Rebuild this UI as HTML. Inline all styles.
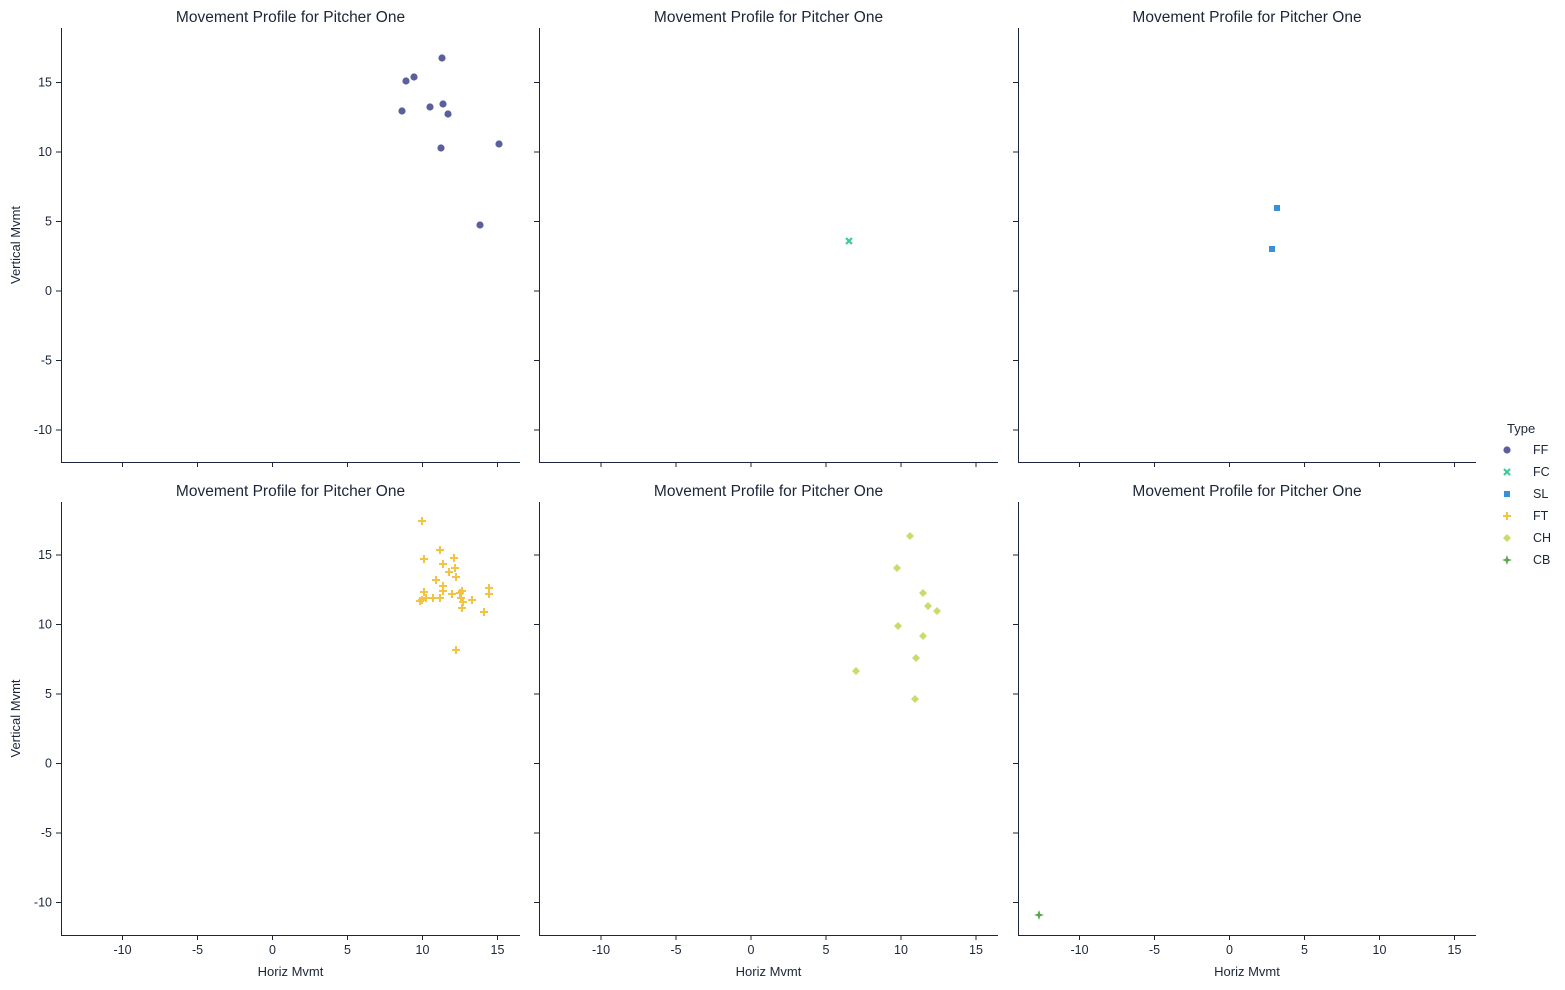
<!DOCTYPE html><html><head><style>body{margin:0;background:#fff}svg{display:block}text{font-family:"Liberation Sans",sans-serif;fill:#1b2638}</style></head><body>
<svg width="1565" height="990" xmlns="http://www.w3.org/2000/svg">
<g id="panels" stroke="#1b2638" stroke-width="1" fill="none"></g>
<g id="txt" font-size="12.5"></g>
<g id="pts"></g>
</svg>
<script>
const NS="http://www.w3.org/2000/svg";
const P=document.getElementById('panels'),T=document.getElementById('txt'),Q=document.getElementById('pts');
function el(p,tag,a,t){const e=document.createElementNS(NS,tag);for(const k in a)e.setAttribute(k,a[k]);if(t!==undefined)e.textContent=t;p.appendChild(e);return e;}
const cols=[[61,520,272.5],[539,998,751],[1018,1476,1229.5]];
const rows=[[28,462,291],[502,935,763.5]];
rows.forEach((r,ri)=>cols.forEach((c,ci)=>{
 el(P,'line',{x1:c[0]+.5,y1:r[0],x2:c[0]+.5,y2:r[1]});
 el(P,'line',{x1:c[0],y1:r[1]+.5,x2:c[1],y2:r[1]+.5});
 el(T,'text',{x:(c[0]+c[1])/2,y:r[0]-6,'text-anchor':'middle','font-size':'15.5'},'Movement Profile for Pitcher One');
 for(let v=-10;v<=15;v+=5){const x=c[2]+v*15;el(P,'line',{x1:x,y1:r[1],x2:x,y2:r[1]+5});
  if(ri==1)el(T,'text',{x:x,y:r[1]+19,'text-anchor':'middle'},String(v));}
 for(let v=-10;v<=15;v+=5){const y=r[2]-v*13.9;el(P,'line',{x1:c[0],y1:y,x2:c[0]-5,y2:y});
  if(ci==0)el(T,'text',{x:c[0]-9,y:y+4,'text-anchor':'end'},String(v));}
 if(ri==1)el(T,'text',{x:(c[0]+c[1])/2,y:976,'text-anchor':'middle','font-size':'13'},'Horiz Mvmt');
 if(ci==0)el(T,'text',{x:20,y:(r[0]+r[1])/2,'text-anchor':'middle','font-size':'13',transform:`rotate(-90 20 ${(r[0]+r[1])/2})`},'Vertical Mvmt');
}));
const C={FF:'#5b5f9c',FC:'#3ec99b',SL:'#3a90d6',FT:'#f5c343',CH:'#c8dc6c',CB:'#5aa84c'};
function mk(t,x,y){const c=C[t];
 if(t=='FF')el(Q,'circle',{cx:x,cy:y,r:3.6,fill:c});
 else if(t=='FC'){el(Q,'path',{d:`M${x-3} ${y-3}L${x+3} ${y+3}M${x+3} ${y-3}L${x-3} ${y+3}`,stroke:c,'stroke-width':2.2});}
 else if(t=='SL')el(Q,'rect',{x:x-3,y:y-3,width:6,height:6,fill:c});
 else if(t=='FT')el(Q,'path',{d:`M${x-4} ${y}H${x+4}M${x} ${y-4}V${y+4}`,stroke:c,'stroke-width':2});
 else if(t=='CH')el(Q,'path',{d:`M${x} ${y-4}L${x+4} ${y}L${x} ${y+4}L${x-4} ${y}Z`,fill:c});
 else el(Q,'path',{d:`M${x} ${y-5}L${x+1.3} ${y-1.3}L${x+5} ${y}L${x+1.3} ${y+1.3}L${x} ${y+5}L${x-1.3} ${y+1.3}L${x-5} ${y}L${x-1.3} ${y-1.3}Z`,fill:c});}
[[442,58],[406,81],[414,77],[402,111],[430,107],[443,104],[448,114],[441,148],[499,144],[480,225]].forEach(p=>mk('FF',...p));
mk('FC',849,241);
mk('SL',1277,208);mk('SL',1272,249);
[[422,521],[424,559],[440,550],[443,564],[454,558],[436,580],[449,572],[443,586],[456,577],[455,568],[424,592],[422,600],[420,601],[433,598],[440,598],[452,594],[460,593],[462,591],[463,602],[462,608],[472,600],[489,588],[489,594],[484,612],[456,650],[426,598],[443,591],[461,598]].forEach(p=>mk('FT',...p));
[[910,536],[897,568],[923,593],[928,606],[937,611],[898,626],[923,636],[916,658],[856,671],[915,699]].forEach(p=>mk('CH',...p));
mk('CB',1039,915);
el(T,'text',{x:1507,y:433,'font-size':'13'},'Type');
['FF','FC','SL','FT','CH','CB'].forEach((t,i)=>{const y=450+i*22;mk(t,1507,y);el(T,'text',{x:1533,y:y+4},t);});
</script></body></html>
